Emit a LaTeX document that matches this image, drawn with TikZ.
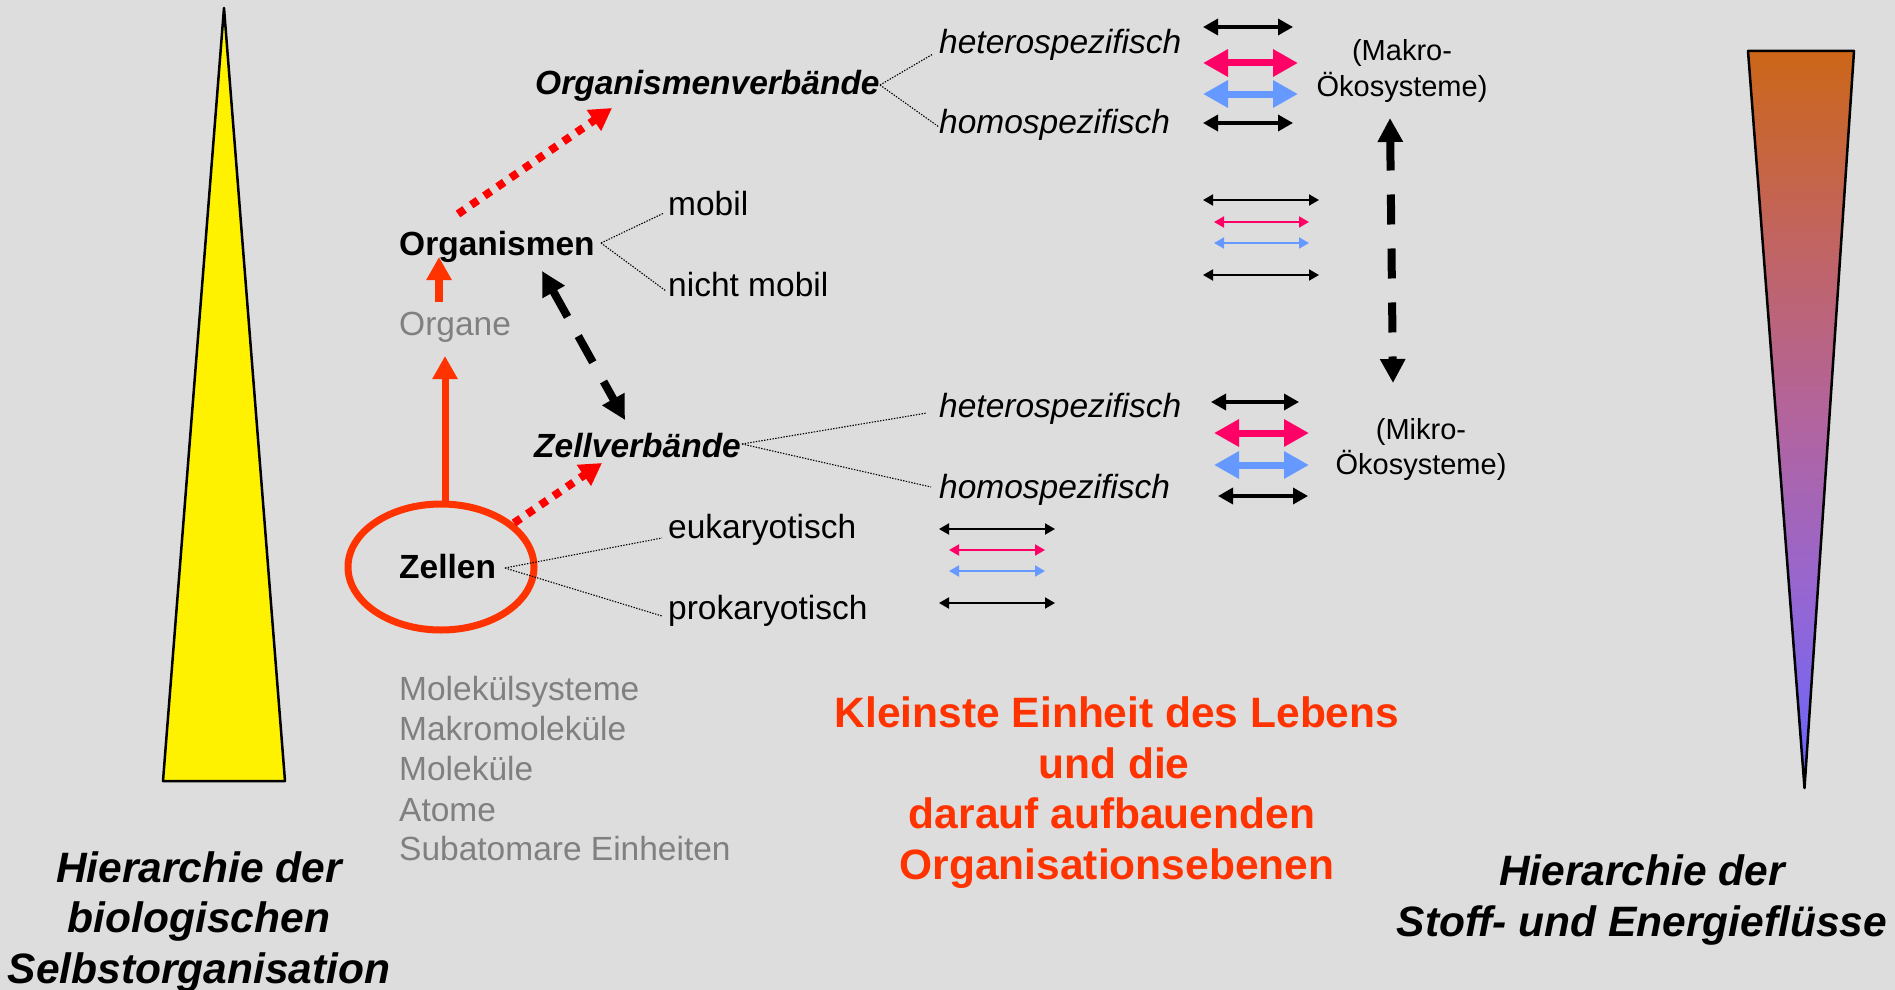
\documentclass[tikz,border=0pt]{standalone}
\usepackage{fontspec}
\setmainfont{Liberation Sans}
\usetikzlibrary{arrows.meta,shapes.geometric}
\definecolor{bg}{HTML}{DDDDDD}
\definecolor{orr}{HTML}{FF3300}
\definecolor{pnk}{HTML}{FF0066}
\definecolor{blu}{HTML}{6699FF}
\definecolor{gry}{HTML}{808080}
\definecolor{topc}{RGB}{204,102,24}
\definecolor{qa}{RGB}{194,100,95}
\definecolor{qb}{RGB}{178,100,158}
\definecolor{qc}{RGB}{148,102,212}
\definecolor{botc}{RGB}{102,102,255}
\pgfdeclareverticalshading{flowshade}{100bp}{color(0bp)=(botc); color(25bp)=(botc); color(37.5bp)=(qc); color(50bp)=(qb); color(62.5bp)=(qa); color(75bp)=(topc); color(100bp)=(topc)}
\begin{document}
\begin{tikzpicture}[x=1pt,y=-1pt,
  lbl/.style={anchor=base west, inner sep=0pt, font=\fontsize{33.5}{40}\selectfont},
  lbli/.style={lbl, font=\fontsize{33.5}{40}\selectfont\itshape},
  lblb/.style={lbl, font=\fontsize{33.5}{40}\selectfont\bfseries},
  lblbi/.style={lbl, font=\fontsize{33.5}{40}\selectfont\bfseries\itshape},
  graylbl/.style={lbl, text=gry},
  eco/.style={anchor=base, inner sep=0pt, font=\fontsize{29}{34}\selectfont},
  redtxt/.style={anchor=base, inner sep=0pt, text=orr, font=\fontsize{42.5}{50}\selectfont\bfseries},
  heading/.style={anchor=base, inner sep=0pt, font=\fontsize{42.5}{50}\selectfont\bfseries\itshape},
  conn/.style={draw=black, line width=1.1pt, dash pattern=on 1.4pt off 1.4pt},
  bigdbl/.style={line width=3.4pt, {Triangle[length=15pt,width=16pt]}-{Triangle[length=15pt,width=16pt]}},
  fatdbl/.style={line width=7pt, {Triangle[length=25pt,width=26pt]}-{Triangle[length=25pt,width=26pt]}},
  thindbl/.style={line width=1.9pt, {Triangle[length=10pt,width=11pt]}-{Triangle[length=10pt,width=11pt]}},
  orarrow/.style={draw=orr, line width=7pt, -{Triangle[length=23pt,width=24pt]}},
  reddot/.style={draw=red, line width=8pt, dash pattern=on 8pt off 8pt, -{Triangle[length=22pt,width=24pt]}},
  blkdash/.style={draw=black, line width=8pt, dash pattern=on 30pt off 24pt, {Triangle[length=24pt,width=24pt]}-{Triangle[length=24pt,width=24pt]}}
]
\fill[bg] (0,0) rectangle (1895,990);
\useasboundingbox (0,0) rectangle (1895,990);

% left yellow triangle
\draw[fill=yellow, line width=2.5pt, line join=round] (224,8) -- (285,781) -- (163,781) -- cycle;
% right gradient triangle
\shade[shading=flowshade] (1748,51) -- (1854,51) -- (1804.5,788) -- cycle;
\draw[line width=2.5pt, line join=round] (1748,51) -- (1854,51) -- (1804.5,788) -- cycle;

% main labels
\node[lblbi] (ov) at (535,94) {Organismenverbände};
\node[lbli] (het1) at (939,54) {heterospezifisch};
\node[lbli] (hom1) at (939,133) {homospezifisch};
\node[lblb] (org) at (399,255) {Organismen};
\node[lbl] (mob) at (668,215) {mobil};
\node[lbl] (nmob) at (668,296) {nicht mobil};
\node[graylbl] (organe) at (399,335) {Organe};
\node[lblbi] (zv) at (534,457) {Zellverbände};
\node[lbli] (het2) at (939,417) {heterospezifisch};
\node[lbli] (hom2) at (939,498) {homospezifisch};
\node[lbl] (euk) at (668,538) {eukaryotisch};
\node[lbl] (prok) at (668,619) {prokaryotisch};
\node[lblb] (zel) at (399,578) {Zellen};
\node[draw=orr, line width=7pt, ellipse, minimum width=186pt, minimum height=126pt, inner sep=0pt] (ell) at (441,567) {};

% gray list
\node[graylbl] (g1) at (399,700) {Molekülsysteme};
\node[graylbl] (g2) at (399,740) {Makromoleküle};
\node[graylbl] (g3) at (399,780) {Moleküle};
\node[graylbl] (g4) at (399,821) {Atome};
\node[graylbl] (g5) at (399,860) {Subatomare Einheiten};

% eco labels
\node[eco] (mak1) at (1402,60) {(Makro-};
\node[eco] (mak2) at (1402,96) {Ökosysteme)};
\node[eco] (mik1) at (1421,439) {(Mikro-};
\node[eco] (mik2) at (1421,474) {Ökosysteme)};

% red center text
\node[redtxt] (r1) at (1117,727) {Kleinste Einheit des Lebens};
\node[redtxt] (r2) at (1114,778) {und die};
\node[redtxt] (r3) at (1112,828) {darauf aufbauenden};
\node[redtxt] (r4) at (1117,879) {Organisationsebenen};

% headings
\node[heading] (hl1) at (199,882) {Hierarchie der};
\node[heading] (hl2) at (199,932) {biologischen};
\node[heading] (hl3) at (199,983) {Selbstorganisation};
\node[heading] (hr1) at (1642,885) {Hierarchie der};
\node[heading] (hr2) at (1642,936) {Stoff- und Energieflüsse};

% dotted connectors
\coordinate (ovR) at (880,85);
\coordinate (het1L) at (933,54);
\coordinate (hom1L) at (939,127);
\draw[conn] (ovR) -- (het1L);
\draw[conn] (ovR) -- (hom1L);
\coordinate (orgR) at (601,243);
\coordinate (mobL) at (664,213);
\coordinate (nmobL) at (666,291);
\draw[conn] (orgR) -- (mobL);
\draw[conn] (orgR) -- (nmobL);
\coordinate (zvR) at (742,444);
\coordinate (het2L) at (927,413);
\coordinate (hom2L) at (931,487);
\draw[conn] (zvR) -- (het2L);
\draw[conn] (zvR) -- (hom2L);
\coordinate (zelR) at (505,568);
\coordinate (eukL) at (662,538);
\coordinate (prokL) at (662,616);
\draw[conn] (zelR) -- (eukL);
\draw[conn] (zelR) -- (prokL);

% double arrows row 1
\coordinate (a1a) at (1203,27);  \coordinate (a1b) at (1293,27);
\coordinate (a1c) at (1203,63);  \coordinate (a1d) at (1298,63);
\coordinate (a1e) at (1203,94);  \coordinate (a1f) at (1298,94);
\coordinate (a1g) at (1203,123); \coordinate (a1h) at (1293,123);
\draw[bigdbl] (a1a) -- (a1b);
\draw[fatdbl, pnk] (a1c) -- (a1d);
\draw[fatdbl, blu] (a1e) -- (a1f);
\draw[bigdbl] (a1g) -- (a1h);
% row 2
\coordinate (a2a) at (1203,200); \coordinate (a2b) at (1319,200);
\coordinate (a2c) at (1214,222); \coordinate (a2d) at (1309,222);
\coordinate (a2e) at (1214,243); \coordinate (a2f) at (1309,243);
\coordinate (a2g) at (1203,275); \coordinate (a2h) at (1319,275);
\draw[thindbl] (a2a) -- (a2b);
\draw[thindbl, pnk] (a2c) -- (a2d);
\draw[thindbl, blu] (a2e) -- (a2f);
\draw[thindbl] (a2g) -- (a2h);
% row 3
\coordinate (a3a) at (1211,402); \coordinate (a3b) at (1299,402);
\coordinate (a3c) at (1214,433); \coordinate (a3d) at (1309,433);
\coordinate (a3e) at (1214,465); \coordinate (a3f) at (1309,465);
\coordinate (a3g) at (1218,496); \coordinate (a3h) at (1308,496);
\draw[bigdbl] (a3a) -- (a3b);
\draw[fatdbl, pnk] (a3c) -- (a3d);
\draw[fatdbl, blu] (a3e) -- (a3f);
\draw[bigdbl] (a3g) -- (a3h);
% row 4
\coordinate (a4a) at (939,529); \coordinate (a4b) at (1055,529);
\coordinate (a4c) at (949,550); \coordinate (a4d) at (1045,550);
\coordinate (a4e) at (949,571); \coordinate (a4f) at (1045,571);
\coordinate (a4g) at (939,603); \coordinate (a4h) at (1055,603);
\draw[thindbl] (a4a) -- (a4b);
\draw[thindbl, pnk] (a4c) -- (a4d);
\draw[thindbl, blu] (a4e) -- (a4f);
\draw[thindbl] (a4g) -- (a4h);

% vertical dashed arrow Makro <-> Mikro
\coordinate (makB) at (1390,118);
\coordinate (mikT) at (1393,383);
\draw[blkdash] (makB) -- (mikT);

% orange arrows
\coordinate (ellTop) at (445,505);
\coordinate (organeB) at (445,356);
\draw[orarrow] (ellTop) -- (organeB);
\coordinate (organeT) at (439,302);
\coordinate (orgB) at (439,257);
\draw[orarrow, line width=8pt] (organeT) -- (orgB);

% red dotted arrows
\coordinate (orgT) at (458,214);
\coordinate (ovB) at (612,108);
\draw[reddot] (orgT) -- (ovB);
\coordinate (ellNE) at (514,523);
\coordinate (zvB) at (602,463);
\draw[reddot] (ellNE) -- (zvB);

% black dashed diagonal
\coordinate (orgBR) at (542,271);
\coordinate (zvT) at (625,420);
\draw[blkdash, dash pattern=on 30pt off 22pt] (orgBR) -- (zvT);
\end{tikzpicture}
\end{document}
